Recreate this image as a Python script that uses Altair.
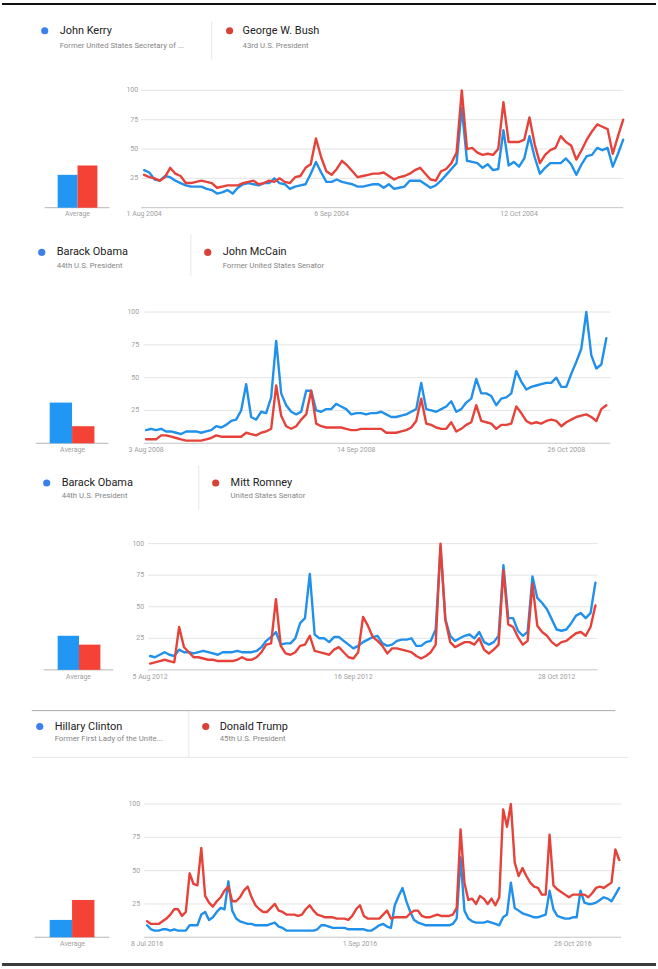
import altair as alt
import pandas as pd

FONT = "Roboto"
BLUE_LINE = "#2190ea"
RED_LINE = "#e5423a"
BLUE_BAR = "#2196f3"
RED_BAR = "#f44336"
BLUE_DOT = "#3b80ea"
RED_DOT = "#db3f35"

# ---- 2004: daily search interest from 1 Aug 2004 ----
kerry_2004 = [32, 30, 24, 23, 27, 26, 23, 21, 19, 18,
              18, 18, 16, 15, 12, 13, 15, 12, 17, 20,
              21, 20, 19, 21, 21, 25, 21, 20, 16, 18,
              19, 20, 29, 39, 30, 22, 22, 24, 22, 21,
              20, 18, 18, 19, 20, 20, 17, 20, 16, 17,
              18, 23, 23, 23, 20, 17, 19, 23, 28, 33,
              38, 85, 40, 39, 38, 34, 37, 32, 33, 66,
              36, 39, 35, 42, 61, 43, 29, 34, 38, 38,
              38, 42, 37, 28, 37, 44, 45, 51, 49, 51,
              35, 46, 58]
bush_2004 = [28, 26, 25, 23, 26, 34, 29, 27, 21, 21,
             22, 23, 22, 21, 17, 18, 19, 19, 19, 21,
             22, 23, 20, 21, 23, 22, 25, 22, 21, 26,
             27, 34, 37, 59, 43, 31, 28, 33, 40, 36,
             31, 26, 27, 28, 29, 29, 30, 27, 24, 26,
             27, 29, 32, 34, 29, 24, 23, 31, 33, 38,
             47, 100, 50, 51, 47, 45, 46, 45, 50, 90,
             56, 56, 56, 58, 77, 54, 38, 45, 49, 51,
             61, 56, 53, 41, 49, 58, 65, 71, 69, 67,
             46, 61, 75]
avg_2004 = [28, 36]
date_labels_2004 = ["1 Aug 2004", "6 Sep 2004", "12 Oct 2004"]
date_days_2004 = [0, 36, 72]

# ---- 2008: daily search interest from 3 Aug 2008 ----
obama_2008 = [10, 11, 10, 11, 9, 9, 8, 7, 9, 9,
              9, 8, 9, 10, 13, 12, 14, 17, 18, 25,
              45, 20, 18, 24, 23, 35, 78, 38, 29, 24,
              22, 24, 40, 40, 25, 24, 26, 26, 30, 28,
              26, 22, 23, 23, 22, 23, 23, 24, 22, 20,
              20, 21, 22, 24, 26, 46, 26, 25, 24, 26,
              28, 32, 24, 26, 31, 34, 49, 38, 38, 36,
              29, 34, 35, 38, 55, 47, 41, 43, 44, 45,
              46, 46, 50, 43, 43, 53, 62, 72, 100, 67,
              57, 60, 80]
mccain_2008 = [3, 3, 3, 6, 6, 5, 4, 3, 2, 2,
               2, 2, 3, 4, 6, 5, 5, 5, 5, 5,
               8, 7, 6, 8, 9, 11, 44, 21, 13, 11,
               13, 18, 22, 40, 15, 13, 12, 12, 12, 12,
               11, 10, 10, 11, 11, 11, 11, 11, 8, 8,
               8, 9, 10, 12, 17, 34, 15, 14, 12, 11,
               11, 16, 9, 11, 14, 16, 29, 17, 16, 15,
               11, 14, 14, 15, 28, 23, 17, 15, 16, 15,
               17, 18, 17, 13, 16, 18, 20, 21, 22, 20,
               17, 26, 29]
avg_2008 = [31, 13]
date_labels_2008 = ["3 Aug 2008", "14 Sep 2008", "26 Oct 2008"]
date_days_2008 = [0, 42, 84]

# ---- 2012: daily search interest from 5 Aug 2012 ----
obama_2012 = [11, 10, 12, 14, 12, 11, 16, 14, 14, 13,
              14, 15, 14, 13, 12, 14, 14, 14, 15, 14,
              14, 14, 15, 18, 23, 26, 30, 20, 21, 21,
              25, 37, 41, 76, 28, 25, 25, 22, 26, 26,
              23, 20, 17, 19, 22, 24, 26, 27, 21, 19,
              20, 23, 24, 24, 25, 19, 19, 22, 23, 32,
              97, 40, 27, 23, 25, 27, 28, 25, 30, 22,
              20, 22, 27, 83, 41, 41, 31, 27, 30, 74,
              57, 53, 48, 40, 32, 31, 32, 37, 43, 45,
              41, 45, 69]
romney_2012 = [5, 6, 7, 8, 7, 6, 34, 18, 14, 10,
               10, 9, 8, 8, 7, 7, 7, 7, 8, 10,
               8, 8, 10, 14, 20, 21, 56, 19, 13, 12,
               14, 19, 20, 27, 15, 14, 13, 12, 16, 18,
               14, 10, 9, 14, 42, 35, 26, 23, 19, 13,
               17, 17, 16, 15, 14, 11, 9, 11, 14, 20,
               100, 40, 22, 18, 20, 22, 22, 20, 25, 16,
               13, 16, 20, 79, 36, 34, 26, 20, 23, 68,
               35, 30, 27, 22, 19, 22, 23, 26, 29, 30,
               27, 34, 51]
avg_2012 = [27, 20]
date_labels_2012 = ["5 Aug 2012", "16 Sep 2012", "28 Oct 2012"]
date_days_2012 = [0, 42, 84]

# ---- 2016: daily search interest from 8 Jul 2016 ----
clinton_2016 = [9, 6, 5, 5, 6, 6, 5, 6, 5, 5,
                5, 9, 9, 9, 17, 19, 13, 15, 19, 22,
                21, 42, 20, 14, 12, 11, 10, 10, 9, 9,
                9, 9, 10, 11, 8, 7, 5, 5, 5, 5,
                5, 5, 5, 5, 6, 9, 9, 8, 7, 7,
                7, 7, 6, 6, 6, 6, 6, 5, 5, 7,
                9, 10, 8, 7, 24, 31, 37, 27, 19, 13,
                11, 10, 9, 9, 9, 9, 9, 9, 9, 10,
                14, 60, 20, 14, 12, 11, 11, 11, 12, 11,
                10, 9, 15, 17, 41, 22, 20, 18, 17, 16,
                15, 15, 16, 17, 35, 21, 16, 15, 14, 14,
                15, 15, 35, 26, 25, 25, 26, 28, 30, 29,
                27, 32, 37]
trump_2016 = [12, 10, 10, 10, 12, 14, 17, 21, 21, 16,
              19, 48, 40, 39, 67, 31, 26, 23, 27, 30,
              35, 38, 27, 27, 30, 35, 38, 30, 24, 21,
              19, 19, 22, 25, 20, 19, 17, 17, 17, 16,
              17, 21, 24, 20, 17, 16, 15, 15, 15, 14,
              14, 14, 13, 16, 21, 24, 16, 14, 14, 14,
              14, 17, 20, 14, 15, 15, 15, 15, 18, 20,
              20, 16, 15, 15, 16, 17, 16, 16, 16, 17,
              22, 81, 41, 28, 29, 25, 31, 29, 25, 29,
              24, 30, 96, 83, 100, 56, 46, 52, 46, 41,
              38, 37, 32, 32, 77, 39, 36, 34, 32, 30,
              32, 32, 32, 32, 30, 33, 37, 38, 37, 39,
              41, 66, 58]
avg_2016 = [13, 28]
date_labels_2016 = ["8 Jul 2016", "1 Sep 2016", "26 Oct 2016"]
date_days_2016 = [0, 55, 110]

y_ticks = [100, 75, 50, 25]

PANELS = [
    dict(height=230, names=["John Kerry", "George W. Bush"],
         subs=["Former United States Secretary of ...", "43rd U.S. President"],
         blue=kerry_2004, red=bush_2004, avg=avg_2004,
         dates=date_labels_2004, days=date_days_2004,
         leg=dict(dot_b=43, name_b=58, sep=211, dot_r=229, name_r=242, ny=28, sy=43, s0=18, s1=57),
         bars=dict(base0=43, base1=108, b0=56, b1=96, lx=76, ly=212),
         plot=dict(x0=143, x1=625, gx0=140, gx1=625, y0=206, y100=88, tx=137, dy=212)),
    dict(height=230, names=["Barack Obama", "John McCain"],
         subs=["44th U.S. President", "Former United States Senator"],
         blue=obama_2008, red=mccain_2008, avg=avg_2008,
         dates=date_labels_2008, days=date_days_2008,
         leg=dict(dot_b=40, name_b=55, sep=190, dot_r=207, name_r=222, ny=21, sy=35, s0=3, s1=45),
         bars=dict(base0=34, base1=107, b0=48, b1=93, lx=71, ly=220),
         plot=dict(x0=145, x1=608, gx0=143, gx1=612, y0=213, y100=81, tx=138, dy=220)),
    dict(height=240, names=["Barack Obama", "Mitt Romney"],
         subs=["44th U.S. President", "United States Senator"],
         blue=obama_2012, red=romney_2012, avg=avg_2012,
         dates=date_labels_2012, days=date_days_2012,
         leg=dict(dot_b=45, name_b=60, sep=198, dot_r=215, name_r=230, ny=23, sy=36, s0=5, s1=50),
         bars=dict(base0=42, base1=112, b0=56, b1=99, lx=77, ly=218),
         plot=dict(x0=149, x1=597, gx0=147, gx1=599, y0=211, y100=84, tx=143, dy=218)),
    dict(height=269, names=["Hillary Clinton", "Donald Trump"],
         subs=["Former First Lady of the Unite...", "45th U.S. President"],
         blue=clinton_2016, red=trump_2016, avg=avg_2016,
         dates=date_labels_2016, days=date_days_2016,
         leg=dict(dot_b=38, name_b=53, sep=188, dot_r=205, name_r=219, ny=28, sy=41, s0=12, s1=59),
         bars=dict(base0=33, base1=108, b0=48, b1=93, lx=71, ly=247),
         plot=dict(x0=146, x1=621, gx0=143, gx1=623, y0=240, y100=106, tx=139, dy=247)),
]

ONE = pd.DataFrame({"k": [0]})


def text_at(label, x, y, size, color, align="left"):
    return alt.Chart(ONE).mark_text(
        text=label, align=align, baseline="middle", font=FONT,
        fontSize=size, color=color,
    ).encode(x=alt.value(x), y=alt.value(y))


def hrule(x0, x1, y, color, width=1):
    return alt.Chart(ONE).mark_rule(color=color, strokeWidth=width).encode(
        x=alt.value(x0), x2=alt.value(x1), y=alt.value(y))


def build_panel(p, idx):
    P, B, L = p["plot"], p["bars"], p["leg"]
    n = len(p["blue"])
    ys = alt.Scale(domain=[0, 100], range=[P["y0"], P["y100"]], nice=False, zero=False)
    xs = alt.Scale(domain=[0, n - 1], range=[P["x0"], P["x1"]], nice=False, zero=False)
    bs = alt.Scale(domain=[0, 2], range=[B["b0"], B["b1"]], nice=False, zero=False)

    layers = []

    # horizontal gridlines and tick labels of the line plot
    grid_df = pd.DataFrame({"v": y_ticks})
    layers.append(alt.Chart(grid_df).mark_rule(color="#e4e4e4", strokeWidth=1).encode(
        y=alt.Y("v:Q", scale=ys, axis=None),
        x=alt.value(P["gx0"]), x2=alt.value(P["gx1"])))
    layers.append(alt.Chart(grid_df).mark_text(
        align="right", baseline="middle", font=FONT, fontSize=7, color="#a0a0a0").encode(
        y=alt.Y("v:Q", scale=ys, axis=None), x=alt.value(P["tx"]), text=alt.Text("v:Q")))
    zero_df = pd.DataFrame({"v": [0]})
    layers.append(alt.Chart(zero_df).mark_rule(color="#c4c4c4", strokeWidth=1).encode(
        y=alt.Y("v:Q", scale=ys, axis=None),
        x=alt.value(P["gx0"]), x2=alt.value(P["gx1"])))
    layers.append(alt.Chart(zero_df).mark_rule(color="#b4b4b4", strokeWidth=1).encode(
        y=alt.Y("v:Q", scale=ys, axis=None),
        x=alt.value(B["base0"]), x2=alt.value(B["base1"])))

    # date labels under the line plot
    date_df = pd.DataFrame({"day": p["days"], "label": p["dates"]})
    layers.append(alt.Chart(date_df).mark_text(
        align="center", baseline="middle", font=FONT, fontSize=7, color="#a0a0a0").encode(
        x=alt.X("day:Q", scale=xs, axis=None), y=alt.value(P["dy"]), text="label:N"))

    # average bars
    bar_df = pd.DataFrame({"i": [0, 1], "j": [1, 2], "avg": p["avg"],
                           "fill": [BLUE_BAR, RED_BAR]})
    layers.append(alt.Chart(bar_df).mark_rect().encode(
        x=alt.X("i:Q", scale=bs, axis=None), x2="j:Q",
        y=alt.Y("avg:Q", scale=ys, axis=None), y2=alt.datum(0),
        color=alt.Color("fill:N", scale=None)))
    layers.append(text_at("Average", B["lx"], B["ly"], 7, "#a0a0a0", align="center"))

    # interest-over-time lines, red drawn over blue
    for values, color in ((p["blue"], BLUE_LINE), (p["red"], RED_LINE)):
        df = pd.DataFrame({"day": list(range(n)), "value": values})
        layers.append(alt.Chart(df).mark_line(
            color=color, strokeWidth=2.4, strokeJoin="round", strokeCap="round").encode(
            x=alt.X("day:Q", scale=xs, axis=None),
            y=alt.Y("value:Q", scale=ys, axis=None)))

    # legend header
    layers.append(alt.Chart(ONE).mark_circle(size=52, color=BLUE_DOT, opacity=1).encode(
        x=alt.value(L["dot_b"]), y=alt.value(L["ny"])))
    layers.append(alt.Chart(ONE).mark_circle(size=52, color=RED_DOT, opacity=1).encode(
        x=alt.value(L["dot_r"]), y=alt.value(L["ny"])))
    layers.append(text_at(p["names"][0], L["name_b"], L["ny"], 11, "#222222"))
    layers.append(text_at(p["names"][1], L["name_r"], L["ny"], 11, "#222222"))
    layers.append(text_at(p["subs"][0], L["name_b"], L["sy"], 7.8, "#858585"))
    layers.append(text_at(p["subs"][1], L["name_r"], L["sy"], 7.8, "#858585"))
    layers.append(alt.Chart(ONE).mark_rule(color="#e8e8e8", strokeWidth=1).encode(
        x=alt.value(L["sep"]), y=alt.value(L["s0"]), y2=alt.value(L["s1"])))

    if idx == 0:
        layers.append(hrule(0, 658, 1, "#111111", 2))
    if idx == 3:
        layers.append(hrule(30, 617, 12, "#a9a9a9", 1))
        layers.append(hrule(30, 630, 59, "#e6e6e6", 1))
        layers.append(hrule(0, 658, 267.5, "#3c3c3c", 3))

    return alt.layer(*layers).resolve_scale(x="independent").properties(
        width=658, height=p["height"])


chart = alt.vconcat(*[build_panel(p, i) for i, p in enumerate(PANELS)], spacing=0).resolve_scale(
    x="independent", y="independent"
).properties(padding=0, background="white").configure_view(stroke=None)

chart.save("out.html", embed_options={"renderer": "svg", "actions": False})
